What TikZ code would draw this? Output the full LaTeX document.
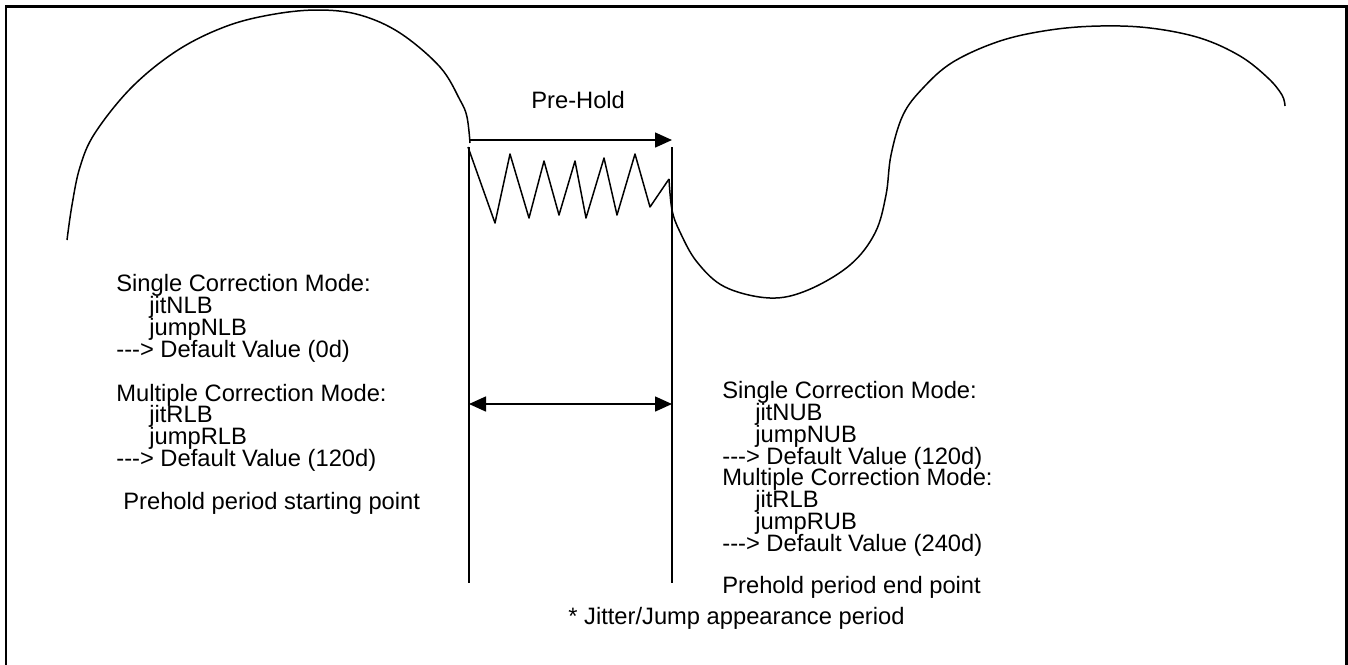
\documentclass[tikz,border=0pt]{standalone}
\usepackage{fontspec}
\setmainfont{Liberation Sans}
\usetikzlibrary{arrows.meta}
\tikzset{
  frame/.style={line width=1.7pt},
  wave/.style={line width=0.85pt, line join=round},
  vline/.style={line width=0.85pt},
  arr/.style={line width=0.85pt, -{Triangle[length=0.34cm,width=0.3cm]}},
  darr/.style={line width=0.85pt, {Triangle[length=0.34cm,width=0.3cm]}-{Triangle[length=0.34cm,width=0.3cm]}},
  txt/.style={anchor=base west, inner sep=0pt, font=\fontsize{13.5pt}{13.5pt}\selectfont},
}
\newcommand{\arrowtxt}{-\kern0pt-\kern0pt->}
\begin{document}
\begin{tikzpicture}[x=0.02cm,y=-0.02cm]
\useasboundingbox (0,0) rectangle (1348,664);
% frame
\draw[frame] (6,670) -- (6,6) -- (1346,6) -- (1346,670);
% left curve
\draw[wave] plot[smooth, tension=0.6] coordinates {(67,240) (72,205) (80,167) (95,133) (132,87) (178,50) (227,26) (275,14) (320,10) (360,15) (400,33) (440,67) (460,100) (467,117) (470,143)};
% right curve
\draw[wave] plot[smooth, tension=0.6] coordinates {(669,179) (672,210) (680,232) (697,262) (725,287) (770,298) (808,290) (850,265) (875,233) (886,195) (891,155) (903,115) (923,88) (953,62) (1000,41) (1050,30) (1100,26) (1150,28) (1200,38) (1240,56) (1268,78) (1282,95) (1285,106)};
% zigzag
\draw[wave] (468,147) -- (495,223) -- (510,154) -- (529,218) -- (544,161) -- (559,215) -- (575,161) -- (586,218) -- (604,158) -- (617,215) -- (635,154) -- (650,207) -- (669,179);
% vertical lines
\coordinate (lt) at (469,147);
\coordinate (lb) at (469,583);
\coordinate (rt) at (672,147);
\coordinate (rb) at (672,583);
\draw[vline] (lt) -- (lb);
\draw[vline] (rt) -- (rb);
% arrows
\coordinate (a1) at (470,140);
\coordinate (a2) at (672,140);
\draw[arr] (a1) -- (a2);
\coordinate (d1) at (469,404);
\coordinate (d2) at (672,404);
\draw[darr] (d1) -- (d2);
% texts
\node[txt] (ph) at (531,108) {Pre-Hold};
\node[txt] (l1) at (116,291) {Single Correction Mode:};
\node[txt] (l2) at (149,313) {jitNLB};
\node[txt] (l3) at (149,335) {jumpNLB};
\node[txt] (l4) at (116,357) {\arrowtxt{} Default Value (0d)};
\node[txt] (l5) at (116,401) {Multiple Correction Mode:};
\node[txt] (l6) at (149,422) {jitRLB};
\node[txt] (l7) at (149,444) {jumpRLB};
\node[txt] (l8) at (116,466) {\arrowtxt{} Default Value (120d)};
\node[txt] (l9) at (123,509) {Prehold period starting point};
\node[txt] (r1) at (722,398) {Single Correction Mode:};
\node[txt] (r2) at (755,420) {jitNUB};
\node[txt] (r3) at (755,442) {jumpNUB};
\node[txt] (r4) at (722,464) {\arrowtxt{} Default Value (120d)};
\node[txt] (r5) at (722,485) {Multiple Correction Mode:};
\node[txt] (r6) at (755,507) {jitRLB};
\node[txt] (r7) at (755,529) {jumpRUB};
\node[txt] (r8) at (722,551) {\arrowtxt{} Default Value (240d)};
\node[txt] (r9) at (722,593) {Prehold period end point};
\node[txt] (jj) at (568,624) {* Jitter/Jump appearance period};
\end{tikzpicture}
\end{document}
